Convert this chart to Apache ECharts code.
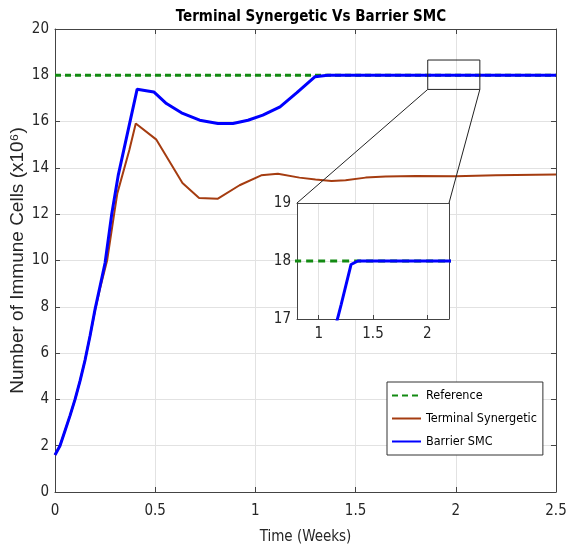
<!DOCTYPE html>
<html>
<head>
<meta charset="utf-8">
<script src="https://cdn.jsdelivr.net/npm/echarts@6/dist/echarts.min.js"></script>
<style>
html, body { margin: 0; padding: 0; background: #fff; }
#chart { width: 578px; height: 552px; }
</style>
</head>
<body>
<div id="chart"></div>
<script>
// time (weeks) and immune cells (x10^6)
const refTime = [0, 2.5];
const refValues = [18, 18];

const blueTime = [0, 0.025, 0.05, 0.075, 0.1, 0.125, 0.15, 0.175, 0.2, 0.225, 0.25, 0.283, 0.316, 0.41,
  0.493, 0.556, 0.631, 0.722, 0.813, 0.888, 0.963, 1.037, 1.123, 1.207, 1.298, 1.36, 2.5];
const blueValues = [1.6, 2.0, 2.65, 3.3, 4.0, 4.8, 5.7, 6.75, 7.9, 8.9, 9.9, 12.0, 13.7, 17.4,
  17.28, 16.78, 16.38, 16.06, 15.92, 15.92, 16.06, 16.28, 16.64, 17.25, 17.94, 18.0, 18.0];

const brownTime = [0, 0.025, 0.05, 0.075, 0.1, 0.125, 0.15, 0.175, 0.2, 0.225, 0.26, 0.295, 0.311, 0.371,
  0.403, 0.506, 0.636, 0.719, 0.813, 0.921, 1.029, 1.112, 1.22, 1.3, 1.38, 1.45, 1.55, 1.65, 1.8, 2.0, 2.2, 2.5];
const brownValues = [1.6, 2.0, 2.65, 3.3, 4.0, 4.8, 5.7, 6.75, 7.85, 8.8, 10.0, 12.0, 12.9, 14.77,
  15.92, 15.22, 13.35, 12.7, 12.67, 13.25, 13.68, 13.75, 13.58, 13.5, 13.43, 13.47, 13.58, 13.63, 13.65, 13.64, 13.68, 13.72];

const insetXTicks = [1, 1.5, 2];
// zoomed box on the main axes: [xmin, xmax, ymin, ymax]
const zoomBox = [1.86, 2.12, 17.39, 18.66];

const pairs = (xs, ys) => xs.map((x, i) => [x, ys[i]]);

const narrow = "'Liberation Sans Narrow', 'DejaVu Sans Condensed', 'Liberation Sans', Arial, sans-serif";
const axisColor = '#444';
const gridColor = '#e2e2e2';
const green = '#128a12';
const brown = '#a53c10';
const blue = '#0000ff';

const chart = echarts.init(document.getElementById('chart'));

// secondary axis used only to close the box (MATLAB "box on")
function boxAxis(pos, grid, min, max, extra) {
  return Object.assign({
    type: 'value', position: pos, gridIndex: grid, min: min, max: max,
    axisLine: { show: true, onZero: false, lineStyle: { color: axisColor } },
    axisTick: { show: true, inside: true, length: 5, lineStyle: { color: axisColor } },
    axisLabel: { show: false },
    splitLine: { show: false }
  }, extra || {});
}

const option = {
  animation: false,
  title: {
    text: 'Terminal Synergetic Vs Barrier SMC',
    left: 306, top: 5, textAlign: 'center',
    textStyle: { fontFamily: narrow, fontSize: 15, fontWeight: 'bold', color: '#000' }
  },
  legend: {
    orient: 'vertical',
    left: 387, top: 382,
    padding: [7, 6, 7, 4],
    itemWidth: 29, itemHeight: 14, itemGap: 10,
    backgroundColor: '#fff',
    borderColor: '#333', borderWidth: 1, borderRadius: 0,
    itemStyle: { opacity: 0 },
    textStyle: { fontFamily: narrow, fontSize: 12.5, color: '#000' },
    data: ['Reference', 'Terminal Synergetic', 'Barrier SMC']
  },
  grid: [
    { left: 55, right: 22, top: 29, bottom: 60, outerBoundsMode: 'none' },
    { left: 297, width: 152, top: 203, height: 116, z: 3, outerBoundsMode: 'none',
      show: true, backgroundColor: '#fff', borderWidth: 0 }
  ],
  xAxis: [
    {
      type: 'value', gridIndex: 0, min: 0, max: 2.5, interval: 0.5,
      name: 'Time (Weeks)', nameLocation: 'middle', nameGap: 38, nameMoveOverlap: false,
      nameTextStyle: { fontFamily: narrow, fontSize: 15, color: '#262626' },
      axisLine: { show: true, onZero: false, lineStyle: { color: axisColor } },
      axisTick: { inside: true, length: 5, lineStyle: { color: axisColor } },
      axisLabel: { margin: 12, fontFamily: narrow, fontSize: 15, color: '#262626' },
      splitLine: { show: true, lineStyle: { color: gridColor } }
    },
    boxAxis('top', 0, 0, 2.5, { interval: 0.5 }),
    {
      type: 'value', gridIndex: 1, min: 0.8, max: 2.2, z: 4,
      axisLine: { show: true, onZero: false, lineStyle: { color: axisColor } },
      axisTick: { inside: true, length: 4, customValues: insetXTicks, lineStyle: { color: axisColor } },
      axisLabel: { margin: 8, customValues: insetXTicks, fontFamily: narrow, fontSize: 15, color: '#262626' },
      splitLine: { show: true, lineStyle: { color: gridColor } }
    },
    boxAxis('top', 1, 0.8, 2.2, { z: 4, axisTick: { show: false } })
  ],
  yAxis: [
    {
      type: 'value', gridIndex: 0, min: 0, max: 20, interval: 2,
      name: 'Number of Immune Cells (x10⁶)', nameLocation: 'middle', nameGap: 28, nameMoveOverlap: false,
      nameTextStyle: { fontFamily: "'Liberation Sans', Arial, sans-serif", fontSize: 19, color: '#262626' },
      axisLine: { show: true, onZero: false, lineStyle: { color: axisColor } },
      axisTick: { inside: true, length: 5, lineStyle: { color: axisColor } },
      axisLabel: { margin: 6, fontFamily: narrow, fontSize: 15, color: '#262626' },
      splitLine: { show: true, lineStyle: { color: gridColor } }
    },
    boxAxis('right', 0, 0, 20, { interval: 2 }),
    {
      type: 'value', gridIndex: 1, min: 17, max: 19, interval: 1, z: 4,
      axisLine: { show: true, onZero: false, lineStyle: { color: axisColor } },
      axisTick: { show: false },
      axisLabel: { margin: 6, fontFamily: narrow, fontSize: 15, color: '#262626' },
      splitLine: { show: true, lineStyle: { color: gridColor } }
    },
    boxAxis('right', 1, 17, 19, { z: 4, axisTick: { show: false } })
  ],
  series: [
    { name: 'Reference', type: 'line', xAxisIndex: 0, yAxisIndex: 0, z: 2,
      data: pairs(refTime, refValues), symbol: 'none',
      lineStyle: { color: green, width: 3, type: [6, 4] }, itemStyle: { color: green } },
    { name: 'Terminal Synergetic', type: 'line', xAxisIndex: 0, yAxisIndex: 0, z: 2,
      data: pairs(brownTime, brownValues), symbol: 'none',
      lineStyle: { color: brown, width: 2 }, itemStyle: { color: brown } },
    { name: 'Barrier SMC', type: 'line', xAxisIndex: 0, yAxisIndex: 0, z: 2,
      data: pairs(blueTime, blueValues), symbol: 'none',
      lineStyle: { color: blue, width: 3 }, itemStyle: { color: blue } },
    // inset copies
    { name: 'Reference', type: 'line', xAxisIndex: 2, yAxisIndex: 2, z: 5,
      data: pairs(refTime, refValues), symbol: 'none',
      lineStyle: { color: green, width: 3, type: [7, 5] }, itemStyle: { color: green } },
    { name: 'Terminal Synergetic', type: 'line', xAxisIndex: 2, yAxisIndex: 2, z: 5,
      data: pairs(brownTime, brownValues), symbol: 'none',
      lineStyle: { color: brown, width: 2 }, itemStyle: { color: brown } },
    { name: 'Barrier SMC', type: 'line', xAxisIndex: 2, yAxisIndex: 2, z: 5,
      data: pairs(blueTime, blueValues), symbol: 'none',
      lineStyle: { color: blue, width: 3 }, itemStyle: { color: blue } }
  ]
};

chart.setOption(option);

// zoom rectangle and its connector lines to the inset corners
const tl = chart.convertToPixel({ xAxisIndex: 0, yAxisIndex: 0 }, [zoomBox[0], zoomBox[3]]);
const br = chart.convertToPixel({ xAxisIndex: 0, yAxisIndex: 0 }, [zoomBox[1], zoomBox[2]]);
const insetTL = chart.convertToPixel({ xAxisIndex: 2, yAxisIndex: 2 }, [0.8, 19]);
const insetTR = chart.convertToPixel({ xAxisIndex: 2, yAxisIndex: 2 }, [2.2, 19]);
const thin = { stroke: '#222', lineWidth: 1, fill: null };

chart.setOption({
  graphic: [
    { type: 'rect', z: 10, silent: true,
      shape: { x: tl[0], y: tl[1], width: br[0] - tl[0], height: br[1] - tl[1] }, style: thin },
    { type: 'line', z: 10, silent: true,
      shape: { x1: tl[0], y1: br[1], x2: insetTL[0], y2: insetTL[1] }, style: thin },
    { type: 'line', z: 10, silent: true,
      shape: { x1: br[0], y1: br[1], x2: insetTR[0], y2: insetTR[1] }, style: thin }
  ]
});
</script>
</body>
</html>
